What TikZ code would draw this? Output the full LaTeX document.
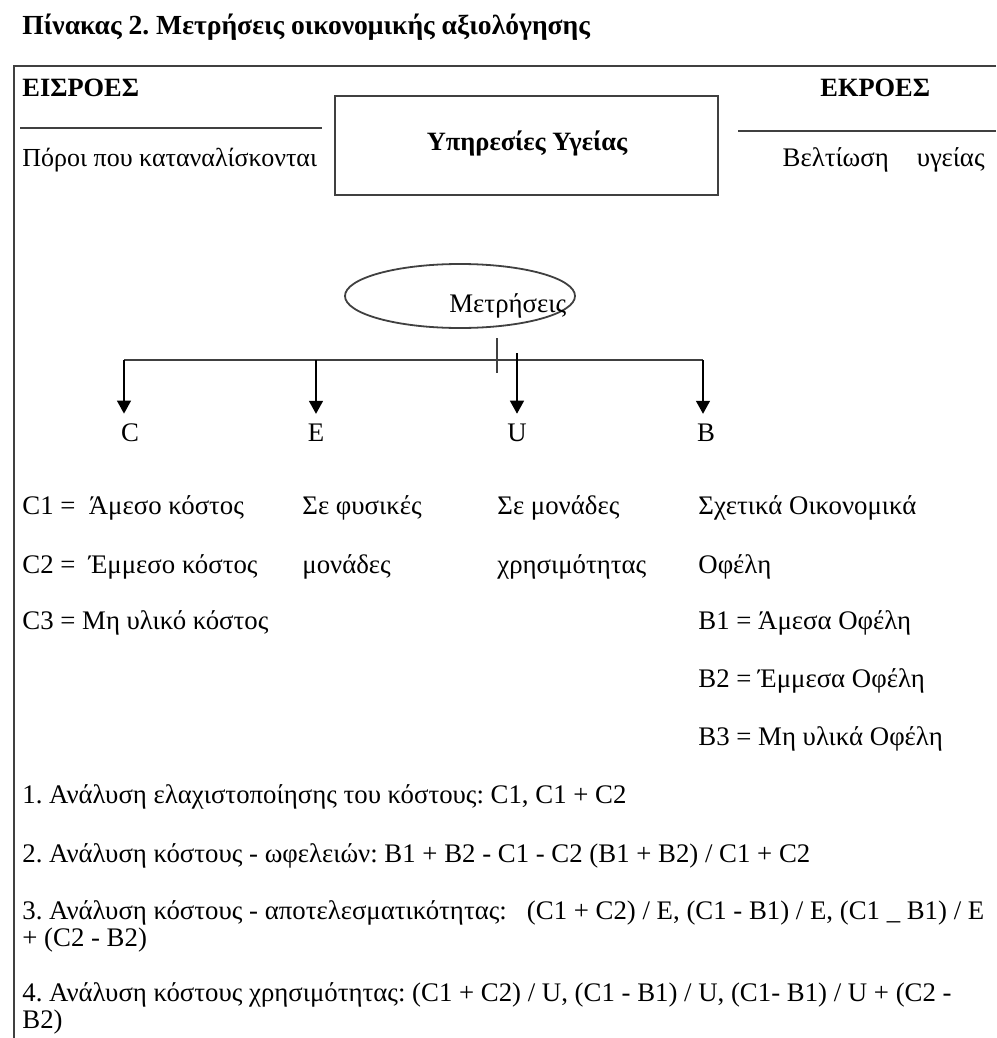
\documentclass[tikz,border=0pt]{standalone}
\usepackage{fontspec}
\setmainfont{Liberation Serif}
\usetikzlibrary{shapes.geometric,arrows.meta}
\usetikzlibrary{positioning}
\frenchspacing

\begin{document}
\begin{tikzpicture}[x=0.5pt,y=-0.5pt,
	txt/.style={anchor=west,inner sep=0pt,font=\fontsize{13.4}{15}\selectfont},
	hdr/.style={txt,font=\fontsize{13.2}{15}\selectfont\bfseries},
	rule/.style={line width=0.9pt,black!75},
	dn/.style={-{Triangle[length=6.5pt,width=7pt]},line width=0.7pt}]
	\useasboundingbox (0,0) rectangle (996,1038);
	\node[hdr,font=\fontsize{13.8}{16}\selectfont\bfseries] (title) at (22,27) {Πίνακας 2. Μετρήσεις οικονομικής αξιολόγησης};
	\draw[rule] (996,66) -- (14,66) -- (14,1038);
	\node[hdr] (ins) at (22,88) {ΕΙΣΡΟΕΣ};
	\node[hdr] (outs) at (820,88) {ΕΚΡΟΕΣ};
	\draw[rule] (20,128) -- (322,128);
	\draw[rule] (738,131) -- (996,131);
	\node[txt,font=\fontsize{13}{15}\selectfont] (res) at (22,160) {Πόροι που καταναλίσκονται};
	\node[txt,anchor=east] (gain) at (985,160) {Βελτίωση\hspace{14pt}υγείας};
	\node[draw,rule,minimum width=191.5pt,minimum height=49.5pt] (svc) at (526.5,145.5) {};
	\node[hdr,anchor=center] (svctxt) at (527,143) {Υπηρεσίες Υγείας};
	\node[draw,rule,ellipse,minimum width=115pt,minimum height=32pt] (meas) at (460,296) {};
	\node[txt] (meastxt) at (449,306) {Μετρήσεις};
	\coordinate (barC) at (124,360);
	\coordinate (barE) at (316,360);
	\coordinate (barU) at (517,353);
	\coordinate (barB) at (703,360);
	\draw[rule,line width=0.7pt] (barC) -- (barB);
	\draw[rule,line width=0.7pt] (497,338) -- (497,373);
	\node[txt,anchor=center] (lC) at (130,433) {C};
	\node[txt,anchor=center] (lE) at (316,433) {E};
	\node[txt,anchor=center] (lU) at (517,433) {U};
	\node[txt,anchor=center] (lB) at (706,433) {B};
	\draw[dn] (barC) -- ([yshift=5pt]barC |- lC.north);
	\draw[dn] (barE) -- ([yshift=5pt]barE |- lE.north);
	\draw[dn] (barU) -- ([yshift=5pt]barU |- lU.north);
	\draw[dn] (barB) -- ([yshift=5pt]barB |- lB.north);
	\node[txt] (c1) at (22,508) {C1 =\ \ Άμεσο κόστος};
	\node[txt] (c2) at (22,567) {C2 =\ \ Έμμεσο κόστος};
	\node[txt] (c3) at (22,623) {C3 = Μη υλικό κόστος};
	\node[txt] (e1) at (302,508) {Σε φυσικές};
	\node[txt] (e2) at (302,567) {μονάδες};
	\node[txt] (u1) at (497,508) {Σε μονάδες};
	\node[txt] (u2) at (497,567) {χρησιμότητας};
	\node[txt] (b0) at (698,508) {Σχετικά Οικονομικά};
	\node[txt] (b00) at (698,567) {Οφέλη};
	\node[txt] (b1) at (698,623) {B1 = Άμεσα Οφέλη};
	\node[txt] (b2) at (698,681) {B2 = Έμμεσα Οφέλη};
	\node[txt] (b3) at (698,739) {B3 = Μη υλικά Οφέλη};
	\node[txt] (m1) at (22,797) {1. Ανάλυση ελαχιστοποίησης του κόστους: C1, C1 + C2};
	\node[txt] (m2) at (22,856) {2. Ανάλυση κόστους - ωφελειών: B1 + B2 - C1 - C2 (B1 + B2) / C1 + C2};
	\node[txt] (m3) at (22,913) {3. Ανάλυση κόστους - αποτελεσματικότητας:\ \ \ (C1 + C2) / E, (C1 - B1) / E, (C1 \_ B1) / E};
	\node[txt] (m3b) at (22,940) {+ (C2 - B2)};
	\node[txt] (m4) at (22,995) {4. Ανάλυση κόστους χρησιμότητας: (C1 + C2) / U, (C1 - B1) / U, (C1- B1) / U + (C2 -};
	\node[txt] (m4b) at (22,1022) {B2)};
\end{tikzpicture}
\end{document}
